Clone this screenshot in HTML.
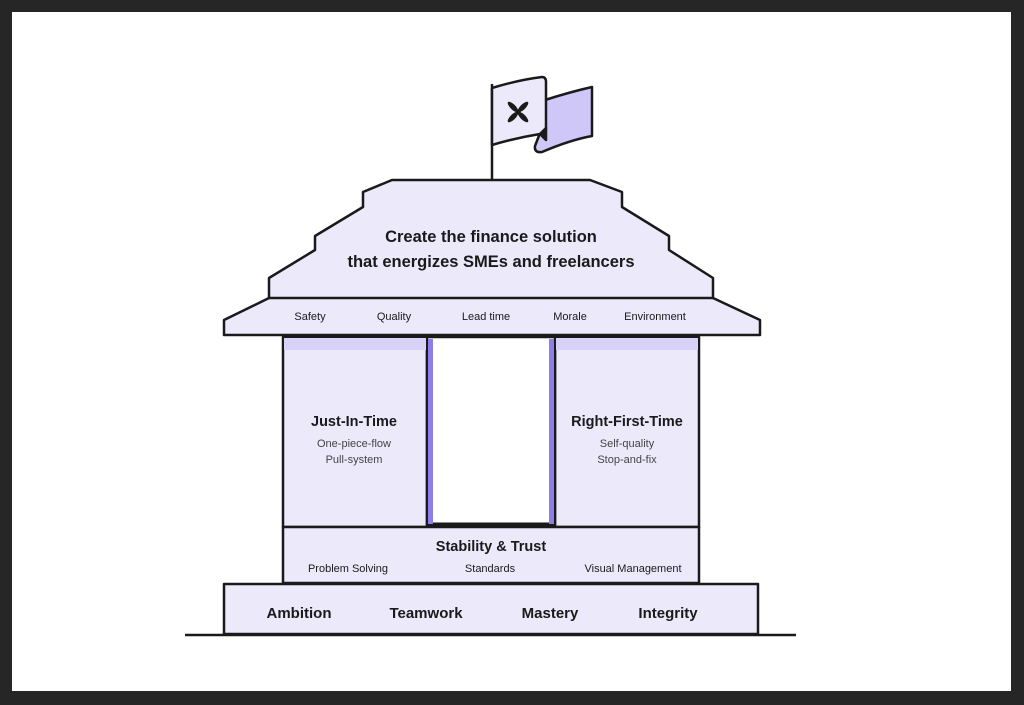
<!DOCTYPE html>
<html><head><meta charset="utf-8"><style>
html,body{margin:0;padding:0;background:#262626;}
.wrap{position:relative;width:1024px;height:705px;background:#262626;}
.inner{position:absolute;left:12px;top:12px;width:999px;height:679px;background:#fff;}
svg{position:absolute;left:0;top:0;}
text{font-family:"Liberation Sans",sans-serif;fill:#1a1a1a;}
</style></head><body><div class="wrap"><div class="inner"></div>
<svg width="1024" height="705" viewBox="0 0 1024 705">
<g stroke="#1a1a1a" stroke-width="2.5" stroke-linejoin="round" fill="#ece9fb">
<!-- flag -->
<line x1="492" y1="84" x2="492" y2="180"/>
<path d="M592 87 L592 136 Q570 140 542 152 Q534 153 535 146 L540 133 L545 100 Q570 92 592 87 Z" fill="#cfc7f7"/>
<path d="M492 88 Q518 80 542 77 Q546 77 546 82 L546 128 Q546 134 540 134 Q515 138 492 145 Z"/>
<path d="M540 134 L546 128 L546 140 Z" fill="#1a1a1a"/>
<!-- roof -->
<path d="M392 180 L590 180 L622 192 L622 207 L669 236 L669 250 L713 278 L713 298 L760 320 L760 335 L224 335 L224 320 L269 298 L269 278 L315 250 L315 236 L363 207 L363 192 Z"/>
<line x1="269" y1="298" x2="713" y2="298"/>
<!-- pillars -->
<rect x="283" y="337" width="144" height="190"/>
<rect x="555" y="337" width="144" height="190"/>
<rect x="427" y="337" width="128" height="188" fill="#fff"/>
<rect x="428" y="339" width="5" height="185" fill="#8f7ee8" stroke="none"/>
<rect x="549" y="339" width="5" height="185" fill="#8f7ee8" stroke="none"/>
<rect x="284" y="338" width="142" height="12" fill="#d9d2f8" stroke="none"/>
<rect x="556" y="338" width="142" height="12" fill="#d9d2f8" stroke="none"/>
<line x1="433" y1="524" x2="549" y2="524" stroke-width="3"/>
<!-- stability -->
<rect x="283" y="527" width="416" height="56"/>
<!-- base -->
<rect x="224" y="584" width="534" height="50"/>
<line x1="185" y1="635" x2="796" y2="635"/>
</g>
<!-- logo -->
<g fill="#1a1a1a" transform="translate(518,112)">
<ellipse cx="-5" cy="-5" rx="2.6" ry="7" transform="rotate(-45 -5 -5)"/>
<ellipse cx="5" cy="-5" rx="2.6" ry="7" transform="rotate(45 5 -5)"/>
<ellipse cx="-5" cy="5" rx="2.6" ry="7" transform="rotate(45 -5 5)"/>
<ellipse cx="5" cy="5" rx="2.6" ry="7" transform="rotate(-45 5 5)"/>
</g>
<g text-anchor="middle">
<text x="491" y="242" font-size="16.5" font-weight="bold" fill="#222">Create the finance solution</text>
<text x="491" y="267" font-size="16.5" font-weight="bold" fill="#222">that energizes SMEs and freelancers</text>
<g font-size="11" style="fill:#333">
<text x="310" y="320">Safety</text><text x="394" y="320">Quality</text><text x="486" y="320">Lead time</text><text x="570" y="320">Morale</text><text x="655" y="320">Environment</text>
</g>
<text x="354" y="426" font-size="14.5" font-weight="bold">Just-In-Time</text>
<text x="354" y="447" font-size="11" style="fill:#444">One-piece-flow</text>
<text x="354" y="463" font-size="11" style="fill:#444">Pull-system</text>
<text x="627" y="426" font-size="14.5" font-weight="bold">Right-First-Time</text>
<text x="627" y="447" font-size="11" style="fill:#444">Self-quality</text>
<text x="627" y="463" font-size="11" style="fill:#444">Stop-and-fix</text>
<text x="491" y="551" font-size="14.5" font-weight="bold">Stability &amp; Trust</text>
<g font-size="11" style="fill:#444">
<text x="348" y="572">Problem Solving</text><text x="490" y="572">Standards</text><text x="633" y="572">Visual Management</text>
</g>
<g font-size="15" font-weight="bold">
<text x="299" y="618">Ambition</text><text x="426" y="618">Teamwork</text><text x="550" y="618">Mastery</text><text x="668" y="618">Integrity</text>
</g>
</g>
</svg></div></body></html>
